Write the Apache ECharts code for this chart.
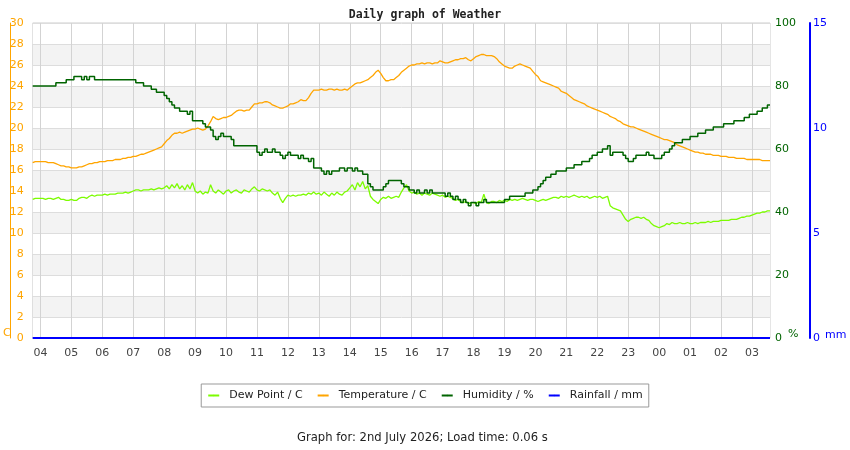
<!DOCTYPE html>
<html>
<head>
<meta charset="utf-8">
<title>Daily graph of Weather</title>
<script src="https://cdn.jsdelivr.net/npm/echarts@6/dist/echarts.min.js"></script>
<style>
    html, body { margin: 0; padding: 0; background: #fff; }
    #chart { width: 850px; height: 450px; }
</style>
</head>
<body>
<div id="chart"></div>
<script>
// readings every 5 minutes, 03:45 -> 03:35 next day (one row per hour)
var temperature = [
    16.7, 16.8, 16.8,
    16.8, 16.8, 16.8, 16.7, 16.7, 16.7, 16.6, 16.5, 16.4, 16.4, 16.3, 16.3, // 04
    16.2, 16.2, 16.2, 16.3, 16.3, 16.4, 16.5, 16.6, 16.6, 16.7, 16.7, 16.8, // 05
    16.8, 16.8, 16.9, 16.9, 16.9, 17.0, 17.0, 17.0, 17.1, 17.1, 17.2, 17.2, // 06
    17.3, 17.3, 17.4, 17.5, 17.5, 17.6, 17.7, 17.8, 17.9, 18.0, 18.1, 18.2, // 07
    18.5, 18.8, 19.0, 19.3, 19.5, 19.5, 19.6, 19.5, 19.6, 19.7, 19.8, 19.9, // 08
    19.9, 20.0, 19.9, 19.8, 19.9, 20.2, 20.6, 21.1, 20.9, 20.8, 20.9, 21.0, // 09
    21.0, 21.1, 21.2, 21.4, 21.6, 21.7, 21.7, 21.6, 21.7, 21.7, 22.0, 22.3, // 10
    22.3, 22.4, 22.4, 22.5, 22.5, 22.4, 22.2, 22.1, 22.0, 21.9, 21.9, 22.0, // 11
    22.1, 22.3, 22.3, 22.4, 22.5, 22.7, 22.6, 22.6, 22.9, 23.3, 23.6, 23.6, // 12
    23.6, 23.7, 23.6, 23.6, 23.7, 23.7, 23.6, 23.7, 23.6, 23.6, 23.7, 23.6, // 13
    23.8, 24.0, 24.2, 24.3, 24.3, 24.4, 24.5, 24.6, 24.8, 25.0, 25.3, 25.5, // 14
    25.2, 24.8, 24.5, 24.5, 24.6, 24.6, 24.8, 25.0, 25.3, 25.5, 25.7, 25.9, // 15
    26.0, 26.0, 26.1, 26.1, 26.2, 26.1, 26.2, 26.2, 26.1, 26.2, 26.2, 26.4, // 16
    26.3, 26.2, 26.2, 26.3, 26.4, 26.5, 26.5, 26.6, 26.6, 26.7, 26.5, 26.4, // 17
    26.6, 26.8, 26.9, 27.0, 27.0, 26.9, 26.9, 26.9, 26.8, 26.6, 26.3, 26.1, // 18
    25.9, 25.8, 25.7, 25.7, 25.9, 26.0, 26.1, 26.0, 25.9, 25.8, 25.7, 25.4, // 19
    25.1, 24.9, 24.5, 24.4, 24.3, 24.2, 24.1, 24.0, 23.9, 23.8, 23.5, 23.4, // 20
    23.3, 23.1, 22.9, 22.7, 22.6, 22.5, 22.4, 22.3, 22.1, 22.0, 21.9, 21.8, // 21
    21.7, 21.6, 21.5, 21.4, 21.3, 21.1, 21.0, 20.9, 20.7, 20.6, 20.4, 20.3, // 22
    20.2, 20.1, 20.1, 20.0, 19.9, 19.8, 19.7, 19.6, 19.5, 19.4, 19.3, 19.2, // 23
    19.1, 19.0, 18.9, 18.9, 18.8, 18.7, 18.6, 18.4, 18.3, 18.2, 18.1, 18.0, // 00
    17.9, 17.8, 17.7, 17.7, 17.6, 17.6, 17.5, 17.5, 17.5, 17.4, 17.4, 17.4, // 01
    17.3, 17.3, 17.3, 17.2, 17.2, 17.2, 17.1, 17.1, 17.1, 17.1, 17.0, 17.0, // 02
    17.0, 17.0, 17.0, 17.0, 16.9, 16.9, 16.9, 16.9
];

var humidity = [
    80, 80, 80,
    80, 80, 80, 80, 80, 80, 81, 81, 81, 81, 82, 82, // 04
    82, 83, 83, 83, 82, 83, 82, 83, 83, 82, 82, 82, // 05
    82, 82, 82, 82, 82, 82, 82, 82, 82, 82, 82, 82, // 06
    82, 81, 81, 81, 80, 80, 80, 79, 79, 78, 78, 78, // 07
    77, 76, 75, 74, 73, 73, 72, 72, 72, 71, 72, 69, // 08
    69, 69, 69, 68, 67, 67, 66, 64, 63, 64, 65, 64, // 09
    64, 64, 63, 61, 61, 61, 61, 61, 61, 61, 61, 61, // 10
    59, 58, 59, 60, 59, 59, 60, 59, 59, 58, 57, 58, // 11
    59, 58, 58, 58, 57, 58, 57, 57, 56, 57, 54, 54, // 12
    54, 53, 52, 53, 52, 53, 53, 53, 54, 54, 53, 54, // 13
    54, 53, 54, 53, 53, 52, 52, 49, 48, 47, 47, 47, // 14
    47, 48, 49, 50, 50, 50, 50, 50, 49, 48, 48, 47, // 15
    47, 46, 47, 46, 46, 47, 46, 47, 46, 46, 46, 46, // 16
    46, 45, 46, 45, 44, 45, 44, 43, 44, 43, 42, 43, // 17
    43, 42, 43, 43, 44, 43, 43, 43, 43, 43, 43, 43, // 18
    44, 44, 45, 45, 45, 45, 45, 45, 46, 46, 46, 47, // 19
    47, 48, 49, 50, 51, 51, 52, 52, 53, 53, 53, 53, // 20
    54, 54, 54, 55, 55, 55, 56, 56, 56, 57, 58, 58, // 21
    59, 59, 60, 60, 61, 58, 59, 59, 59, 59, 58, 57, // 22
    56, 56, 57, 58, 58, 58, 58, 59, 58, 58, 57, 57, // 23
    57, 58, 59, 59, 60, 61, 62, 62, 62, 63, 63, 63, // 00
    64, 64, 64, 65, 65, 65, 66, 66, 66, 67, 67, 67, // 01
    67, 68, 68, 68, 68, 69, 69, 69, 69, 70, 70, 71, // 02
    71, 71, 72, 72, 73, 73, 74, 74
];

var dewPoint = [
    13.2, 13.3, 13.3,
    13.3, 13.3, 13.2, 13.3, 13.3, 13.2, 13.3, 13.4, 13.2, 13.2, 13.1, 13.1, // 04
    13.2, 13.1, 13.1, 13.3, 13.4, 13.4, 13.3, 13.5, 13.6, 13.5, 13.6, 13.6, // 05
    13.6, 13.7, 13.6, 13.7, 13.7, 13.7, 13.8, 13.8, 13.8, 13.9, 13.8, 13.9, // 06
    14.0, 14.1, 14.1, 14.0, 14.1, 14.1, 14.1, 14.2, 14.1, 14.2, 14.3, 14.2, // 07
    14.3, 14.5, 14.2, 14.6, 14.3, 14.7, 14.2, 14.5, 14.1, 14.6, 14.2, 14.8, // 08
    14.0, 13.8, 14.0, 13.7, 13.9, 13.8, 14.6, 14.0, 13.8, 14.1, 13.9, 13.7, // 09
    14.0, 14.1, 13.8, 14.0, 14.1, 13.9, 13.8, 14.1, 14.0, 13.9, 14.2, 14.4, // 10
    14.1, 14.0, 14.2, 14.1, 14.0, 14.1, 13.8, 13.6, 13.9, 13.3, 12.9, 13.3, // 11
    13.6, 13.5, 13.6, 13.5, 13.6, 13.6, 13.7, 13.6, 13.8, 13.7, 13.9, 13.7, // 12
    13.8, 13.6, 13.9, 13.7, 13.5, 13.8, 13.6, 13.9, 13.7, 13.6, 13.9, 14.0, // 13
    14.3, 14.6, 14.1, 14.8, 14.4, 14.9, 14.2, 14.5, 13.5, 13.2, 13.0, 12.8, // 14
    13.2, 13.4, 13.3, 13.5, 13.3, 13.4, 13.5, 13.4, 13.9, 14.3, 14.6, 14.0, // 15
    13.8, 13.9, 13.7, 13.8, 13.6, 13.8, 13.7, 13.6, 13.8, 13.7, 13.6, 13.5, // 16
    13.6, 13.4, 13.5, 13.4, 13.3, 13.1, 13.2, 13.0, 12.9, 13.0, 12.8, 12.9, // 17
    12.9, 12.8, 13.0, 12.9, 13.7, 12.9, 12.8, 13.0, 13.0, 12.9, 13.1, 13.0, // 18
    13.1, 13.0, 13.2, 13.1, 13.2, 13.1, 13.2, 13.3, 13.2, 13.1, 13.2, 13.2, // 19
    13.1, 13.0, 13.1, 13.2, 13.1, 13.2, 13.3, 13.4, 13.4, 13.3, 13.5, 13.4, // 20
    13.5, 13.4, 13.5, 13.6, 13.5, 13.4, 13.5, 13.4, 13.5, 13.3, 13.4, 13.5, // 21
    13.4, 13.5, 13.3, 13.4, 13.5, 12.6, 12.4, 12.3, 12.2, 12.1, 11.7, 11.3, // 22
    11.1, 11.3, 11.4, 11.5, 11.5, 11.4, 11.5, 11.3, 11.2, 10.9, 10.7, 10.6, // 23
    10.5, 10.6, 10.7, 10.9, 10.8, 11.0, 10.9, 10.9, 11.0, 10.9, 10.9, 11.0, // 00
    10.9, 10.9, 11.0, 10.9, 11.0, 11.0, 11.0, 11.1, 11.0, 11.1, 11.1, 11.1, // 01
    11.2, 11.2, 11.2, 11.2, 11.3, 11.3, 11.3, 11.4, 11.5, 11.5, 11.6, 11.6, // 02
    11.7, 11.8, 11.9, 11.9, 12.0, 12.0, 12.1, 12.1
];

// no rain all day
var rainTimes = ["03:45", "03:35"];
var rainfall = [0, 0];

var seriesNames = ["Dew Point / C", "Temperature / C", "Humidity / %", "Rainfall / mm"];

// 5 minute time slots
var categories = [];
function pad(n) {
    return (n < 10 ? "0" : "") + n;
}
for (var m = 3 * 60 + 45; m <= 27 * 60 + 35; m += 5) {
    categories.push(pad(Math.floor(m / 60) % 24) + ":" + pad(m % 60));
}

function onHour(index, value) {
    return value.substr(3, 2) == "00";
}

var font = "'DejaVu Sans', Verdana, sans-serif";

var chart = echarts.init(document.getElementById("chart"));

var option = {
    animation: false,
    textStyle: {
        fontFamily: font
    },
    title: [{
        text: "Daily graph of Weather",
        left: "center",
        top: 4,
        textStyle: {
            fontFamily: "'DejaVu Sans Mono', monospace",
            fontWeight: "bold",
            fontSize: 11.5,
            color: "#222"
        }
    }, {
        text: "Graph for: 2nd July 2026; Load time: 0.06 s",
        left: 292,
        top: 427,
        textStyle: {
            fontFamily: font,
            fontWeight: "normal",
            fontSize: 11.6,
            color: "#222"
        }
    }],
    legend: {
        data: seriesNames,
        left: "center",
        top: 384,
        padding: [6, 6],
        itemGap: 14,
        itemWidth: 11,
        itemHeight: 2,
        borderColor: "#999",
        borderWidth: 1,
        lineStyle: {
            width: 2
        },
        textStyle: {
            fontFamily: font,
            fontSize: 11,
            color: "#222",
            padding: [0, 0, 0, 5]
        }
    },
    grid: {
        left: 30,
        right: 80,
        top: 23,
        bottom: 112,
        show: true,
        borderColor: "#cccccc",
        borderWidth: 1
    },
    xAxis: {
        type: "category",
        data: categories,
        boundaryGap: false,
        axisLine: {
            show: false
        },
        axisTick: {
            show: false
        },
        axisLabel: {
            interval: onHour,
            formatter: function (v) {
                return v.substr(0, 2);
            },
            margin: 10,
            fontSize: 11,
            color: "#444"
        },
        splitLine: {
            show: true,
            interval: onHour,
            lineStyle: {
                color: "#d3d3d3",
                width: 1
            }
        }
    },
    yAxis: [{
        type: "value",
        position: "left",
        offset: 22,
        min: 0,
        max: 30,
        interval: 2,
        name: "C",
        nameLocation: "start",
        nameGap: 2,
        nameMoveOverlap: false,
        nameTextStyle: {
            color: "#ffa500",
            fontSize: 11,
            align: "right",
            verticalAlign: "bottom",
            padding: [0, 0, 1, 0]
        },
        axisLine: {
            show: true,
            lineStyle: {
                color: "#ffa500",
                width: 1
            }
        },
        axisTick: {
            show: false
        },
        axisLabel: {
            inside: true,
            align: "right",
            margin: 13,
            fontSize: 11,
            color: "#ffa500"
        },
        splitLine: {
            show: true,
            lineStyle: {
                color: "#dddddd"
            }
        },
        splitArea: {
            show: true,
            areaStyle: {
                color: ["#ffffff", "#f3f3f3"]
            }
        }
    }, {
        type: "value",
        position: "right",
        offset: 0,
        min: 0,
        max: 100,
        interval: 20,
        name: "%",
        nameLocation: "start",
        nameGap: 3,
        nameMoveOverlap: false,
        nameTextStyle: {
            color: "#006400",
            fontSize: 11,
            align: "left",
            verticalAlign: "bottom",
            padding: [0, 0, 1, 18]
        },
        axisLine: {
            show: false
        },
        axisTick: {
            show: false
        },
        axisLabel: {
            margin: 5,
            fontSize: 11,
            color: "#006400"
        },
        splitLine: {
            show: false
        }
    }, {
        type: "value",
        position: "right",
        offset: 40,
        min: 0,
        max: 15,
        interval: 5,
        name: "mm",
        nameLocation: "start",
        nameGap: 3,
        nameMoveOverlap: false,
        nameTextStyle: {
            color: "#0000ff",
            fontSize: 11,
            align: "left",
            verticalAlign: "bottom",
            padding: [0, 0, 0, 15]
        },
        axisLine: {
            show: true,
            lineStyle: {
                color: "#0000ff",
                width: 2
            }
        },
        axisTick: {
            show: false
        },
        axisLabel: {
            margin: 3,
            fontSize: 11,
            color: "#0000ff"
        },
        splitLine: {
            show: false
        }
    }],
    series: [{
        name: seriesNames[0],
        type: "line",
        yAxisIndex: 0,
        data: dewPoint,
        symbol: "none",
        color: "#7cfc00",
        lineStyle: {
            width: 1.3
        }
    }, {
        name: seriesNames[1],
        type: "line",
        yAxisIndex: 0,
        data: temperature,
        symbol: "none",
        color: "#ffa500",
        lineStyle: {
            width: 1.3
        }
    }, {
        name: seriesNames[2],
        type: "line",
        yAxisIndex: 1,
        data: humidity,
        step: "end",
        symbol: "none",
        color: "#006400",
        lineStyle: {
            width: 1.5
        }
    }, {
        name: seriesNames[3],
        type: "line",
        yAxisIndex: 2,
        data: rainTimes.map(function (t, i) {
            return [t, rainfall[i]];
        }),
        symbol: "none",
        color: "#0000ff",
        lineStyle: {
            width: 2
        }
    }]
};

chart.setOption(option);
</script>
</body>
</html>
